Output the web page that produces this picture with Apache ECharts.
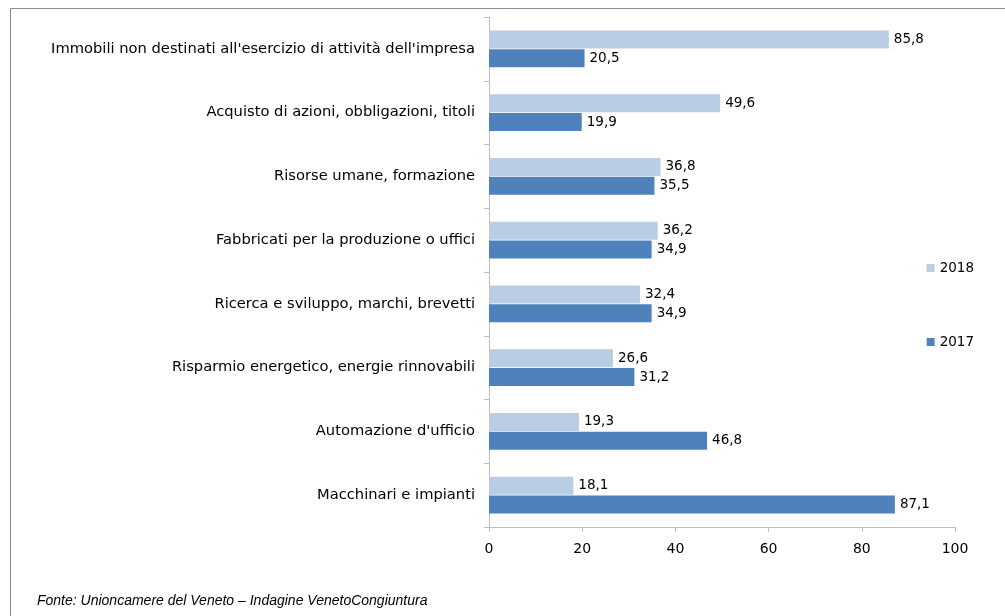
<!DOCTYPE html>
<html>
<head>
<meta charset="utf-8">
<script src="https://cdn.jsdelivr.net/npm/echarts@6/dist/echarts.min.js"></script>
<style>html,body{margin:0;padding:0;background:#fff;}#c{width:1005px;height:616px;}</style>
</head>
<body>
<div id="c"></div>
<script>
const categories = [
  "Immobili non destinati all'esercizio di attività dell'impresa",
  "Acquisto di azioni, obbligazioni, titoli",
  "Risorse umane, formazione",
  "Fabbricati per la produzione o uffici",
  "Ricerca e sviluppo, marchi, brevetti",
  "Risparmio energetico, energie rinnovabili",
  "Automazione d'ufficio",
  "Macchinari e impianti"
];
const values2018 = [85.8, 49.6, 36.8, 36.2, 32.4, 26.6, 19.3, 18.1];
const values2017 = [20.5, 19.9, 35.5, 34.9, 34.9, 31.2, 46.8, 87.1];
const seriesNames = ["2018", "2017"];
const xTicks = { min: 0, max: 100, interval: 20 };
const sourceText = "Fonte: Unioncamere del Veneto – Indagine VenetoCongiuntura";

const FONT = "DejaVu Sans";
const chart = echarts.init(document.getElementById('c'), null, {renderer: 'canvas'});
const fmt = p => String(p.value).replace('.', ',');
const labelCfg = {show: true, position: 'right', distance: 5, formatter: fmt, color: '#000', fontSize: 13.5, fontFamily: FONT};
chart.setOption({
  animation: false,
  backgroundColor: '#fff',
  grid: {left: 489, right: 50, top: 17, bottom: 89, containLabel: false},
  legend: {
    orient: 'vertical', right: 26, top: 256, itemGap: 60,
    itemWidth: 8, itemHeight: 8, icon: 'rect',
    textStyle: {fontSize: 13.5, fontFamily: FONT, color: '#000'},
    data: seriesNames
  },
  xAxis: {
    type: 'value', min: xTicks.min, max: xTicks.max, interval: xTicks.interval,
    axisLine: {show: true, lineStyle: {color: '#bfbfbf'}},
    axisTick: {show: true, length: 5, lineStyle: {color: '#bfbfbf'}},
    splitLine: {show: false},
    axisLabel: {fontSize: 14, fontFamily: FONT, color: '#000', margin: 15}
  },
  yAxis: {
    type: 'category', data: categories, inverse: true,
    axisLine: {show: true, lineStyle: {color: '#bfbfbf'}},
    axisTick: {show: true, length: 5, lineStyle: {color: '#bfbfbf'}},
    axisLabel: {fontSize: 14.7, fontFamily: FONT, color: '#000', margin: 14}
  },
  series: [
    {name: seriesNames[0], type: 'bar', data: values2018, barWidth: 18, barGap: '5%',
     itemStyle: {color: '#B9CDE5'}, label: labelCfg},
    {name: seriesNames[1], type: 'bar', data: values2017, barWidth: 18, barGap: '5%',
     itemStyle: {color: '#4F81BD'}, label: labelCfg}
  ],
  graphic: [
    {type: 'polyline', shape: {points: [[10.5, 616], [10.5, 8.5], [1005, 8.5]]},
     style: {stroke: '#8c8c8c', fill: null, lineWidth: 1}},
    {type: 'text', left: 37, top: 594,
     style: {text: sourceText, fontSize: 14, fontStyle: 'italic', fontFamily: "Liberation Sans", fill: '#000'}}
  ]
});
</script>
</body>
</html>
